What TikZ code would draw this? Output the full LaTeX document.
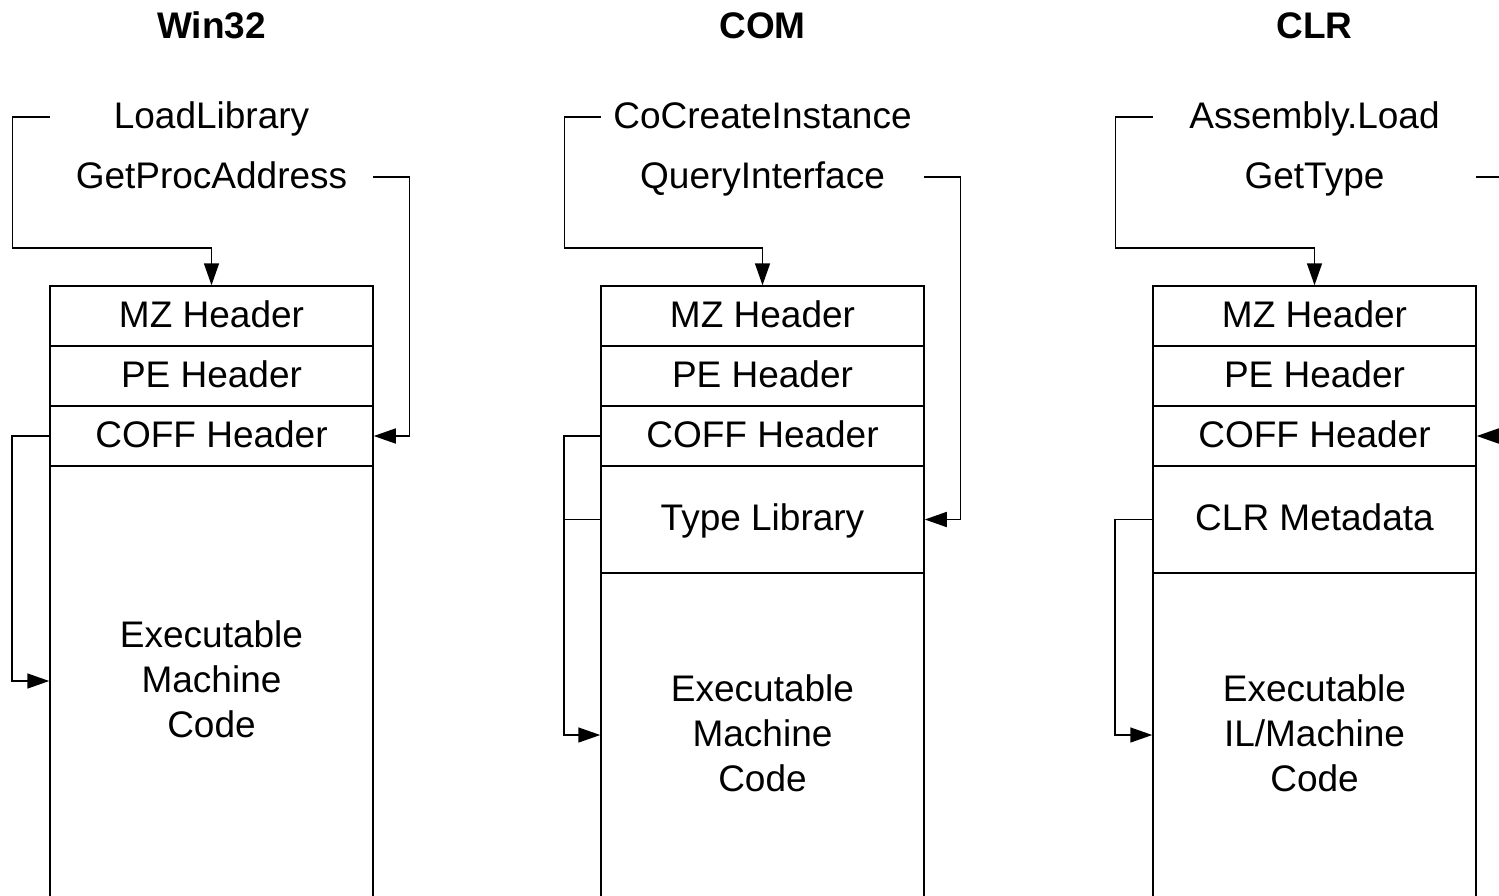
\documentclass[tikz,border=0pt]{standalone}
\usepackage{fontspec}
\setmainfont{Liberation Sans}
\usetikzlibrary{arrows.meta}
\tikzset{
	row/.style={draw, line width=0.75pt, minimum width=161.5pt, minimum height=30pt, inner sep=0pt, text height=11pt, text depth=0pt},
	call/.style={minimum width=161.5pt, inner sep=0pt, text height=11pt, text depth=0pt},
	body/.style={align=center, inner sep=0pt},
	title/.style={font=\fontsize{18.5}{22.5}\selectfont\bfseries, inner sep=0pt, text height=11pt, text depth=0pt},
	wire/.style={line width=0.8pt},
	link/.style={wire, -{Triangle[length=11pt,width=7.5pt]}},
}
\begin{document}
\begin{tikzpicture}[x=0.5pt, y=-0.5pt, font=\fontsize{18.5}{22.5}\selectfont]
				\useasboundingbox (0,0) rectangle (1499,895);
				\clip (0,0) rectangle (1499,895);
				\def\ca{211.5}
				\def\cb{762.5}
				\def\cc{1314.5}
				\node[title] (winT) at (\ca,27) {Win32};
				\node[title] (comT) at (\cb,27) {COM};
				\node[title] (clrT) at (\cc,27) {CLR};
				\node[call] (loadA) at (\ca,117) {LoadLibrary};
				\node[call] (procA) at (\ca,177) {GetProcAddress};
				\node[call] (createB) at (\cb,117) {CoCreateInstance};
				\node[call] (queryB) at (\cb,177) {QueryInterface};
				\node[call] (loadC) at (\cc,117) {Assembly.Load};
				\node[call] (typeC) at (\cc,177) {GetType};
				\node[row] (mzA) at (\ca,316) {MZ Header};
				\node[row] (peA) at (\ca,376) {PE Header};
				\node[row] (coffA) at (\ca,436) {COFF Header};
				\node[row, minimum height=247pt] (exeA) at (\ca,713) {};
				\node[body] (codeA) at (\ca,679) {Executable\\Machine\\Code};
				\node[row] (mzB) at (\cb,316) {MZ Header};
				\node[row] (peB) at (\cb,376) {PE Header};
				\node[row] (coffB) at (\cb,436) {COFF Header};
				\node[row, minimum height=53.5pt] (libB) at (\cb,519.5) {Type Library};
				\node[row, minimum height=193.5pt] (exeB) at (\cb,766.5) {};
				\node[body] (codeB) at (\cb,733) {Executable\\Machine\\Code};
				\node[row] (mzC) at (\cc,316) {MZ Header};
				\node[row] (peC) at (\cc,376) {PE Header};
				\node[row] (coffC) at (\cc,436) {COFF Header};
				\node[row, minimum height=53.5pt] (metaC) at (\cc,519.5) {CLR Metadata};
				\node[row, minimum height=193.5pt] (exeC) at (\cc,766.5) {};
				\node[body] (codeC) at (\cc,733) {Executable\\IL/Machine\\Code};
				\draw[link] (loadA.west) -- ++(-37,0) |- ([yshift=18.5pt]mzA.north) -- (mzA.north);
				\draw[link] (procA.east) -- ++(36,0) |- (coffA.east);
				\draw[link] (coffA.west) -- ++(-37,0) |- ([yshift=-1pt]codeA -| exeA.west);
				\draw[link] (createB.west) -- ++(-36,0) |- ([yshift=18.5pt]mzB.north) -- (mzB.north);
				\draw[link] (queryB.east) -- ++(36,0) |- (libB.east);
				\draw[link] (coffB.west) -- ++(-36,0) |- ([yshift=-1pt]codeB -| exeB.west);
				\draw[wire] (libB.west) -- ++(-36,0);
				\draw[link] (loadC.west) -- ++(-37,0) |- ([yshift=18.5pt]mzC.north) -- (mzC.north);
				\draw[link] (typeC.east) -- ++(36,0) |- (coffC.east);
				\draw[link] (metaC.west) -- ++(-37,0) |- ([yshift=-1pt]codeC -| exeC.west);
			\end{tikzpicture}
\end{document}
